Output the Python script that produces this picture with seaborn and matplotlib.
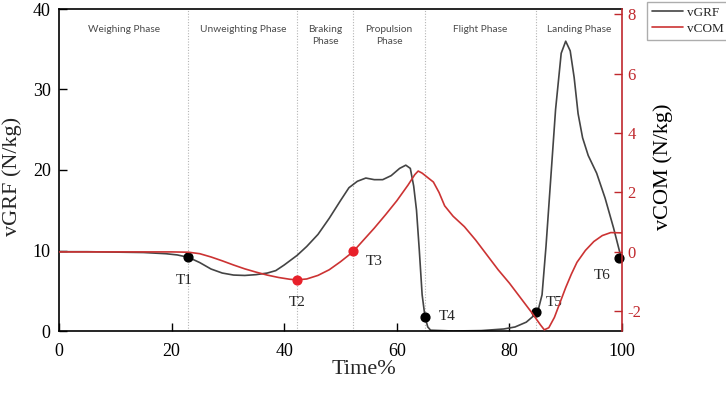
"""
vGRF and vCOM curves over a countermovement jump (Time%), with phase bands
and event markers T1..T6.
"""

import matplotlib
matplotlib.use("Agg")
import matplotlib.pyplot as plt
import seaborn as sns


# vertical ground reaction force (N/kg)
grf_time = [0, 5, 10, 15, 19, 21, 23, 25, 27, 29, 31, 33, 35, 37, 38.5, 40,
            42.3, 44, 46, 48, 50, 51.5, 53, 54.5, 56, 57.5, 59, 60.5, 61.6,
            62.4, 63, 63.5, 64, 64.5, 65, 65.5, 66, 70, 75, 79, 81, 83, 85,
            85.8, 86.5, 87.3, 88.2, 89.2, 90, 90.8, 91.5, 92.2, 93, 94, 95.5,
            97, 98.5, 100]
grf_vals = [9.85, 9.85, 9.8, 9.75, 9.6, 9.45, 9.15, 8.5, 7.7, 7.2, 6.95, 6.9,
            7.0, 7.2, 7.5, 8.2, 9.4, 10.5, 12.0, 14.0, 16.2, 17.8, 18.6, 19.0,
            18.8, 18.8, 19.3, 20.2, 20.6, 20.2, 18.0, 15.0, 10.0, 4.5, 1.8,
            0.5, 0.1, 0.0, 0.05, 0.25, 0.5, 1.1, 2.3, 4.5, 10.5, 18.5, 27.5,
            34.5, 36.0, 34.8, 31.5, 27.0, 24.0, 21.8, 19.6, 16.5, 12.8, 8.7]

# vertical centre-of-mass signal (N/kg)
com_time = [0, 10, 20, 23, 25, 27, 29, 31, 33, 35, 37, 39, 41, 42.3, 44, 46,
            48, 50, 52.2, 54, 56, 58, 60, 62, 63.2, 63.8, 64.5, 65.5, 66.5,
            67.5, 68.5, 70, 72, 74, 76, 78, 80, 82, 84, 85.5, 86.2, 87, 88,
            89, 90, 91, 92, 93.5, 95, 96.5, 98, 100]
com_vals = [0.0, 0.0, 0.0, -0.01, -0.06, -0.17, -0.3, -0.44, -0.57, -0.68,
            -0.78, -0.86, -0.92, -0.94, -0.91, -0.79, -0.6, -0.33, 0.0, 0.38,
            0.8, 1.25, 1.72, 2.25, 2.6, 2.72, 2.65, 2.5, 2.35, 2.0, 1.55, 1.2,
            0.85, 0.4, -0.1, -0.6, -1.05, -1.55, -2.05, -2.45, -2.62, -2.55,
            -2.2, -1.7, -1.2, -0.75, -0.35, 0.05, 0.35, 0.55, 0.65, 0.64]

# event markers
grf_events = ["T1", "T4", "T5", "T6"]
grf_event_t = [23, 65, 84.8, 99.5]
grf_event_v = [9.15, 1.8, 2.3, 9.1]
com_events = ["T2", "T3"]
com_event_t = [42.3, 52.2]
com_event_v = [-0.94, 0.02]

# phases
phase_names = ["Weighing Phase", "Unweighting Phase", "Braking\nPhase",
               "Propulsion\nPhase", "Flight Phase", "Landing Phase"]
phase_edges = [0, 23, 42.3, 52.3, 65, 84.8, 100]

GRF_COLOR = "#444444"
COM_COLOR = "#cc3333"
COM_AXIS = "#c0282d"
SERIF = "Liberation Serif"

sns.set_theme(style="white")
plt.rcParams["font.family"] = [SERIF, "DejaVu Serif"]
plt.rcParams["axes.unicode_minus"] = False

fig = plt.figure(figsize=(7.26, 3.95), dpi=100)
ax = fig.add_axes([59 / 726, 1 - 331 / 395, 563 / 726, 322 / 395])
ax2 = ax.twinx()

# phase borders and titles
for edge in phase_edges[1:-1]:
    ax.axvline(edge, color="#b5b5b5", lw=0.8, ls=(0, (1, 1.5)), zorder=0)
for name, a, b in zip(phase_names, phase_edges[:-1], phase_edges[1:]):
    ax.text((a + b) / 2, 0.95, name, transform=ax.get_xaxis_transform(),
            ha="center", va="top", fontsize=7.3, color="#4a4a4a",
            family="Lato", linespacing=1.35)

sns.lineplot(x=grf_time, y=grf_vals, ax=ax, color=GRF_COLOR, lw=1.2,
             label="vGRF", legend=False)
sns.lineplot(x=com_time, y=com_vals, ax=ax2, color=COM_COLOR, lw=1.2,
             label="vCOM", legend=False)

ax.scatter(grf_event_t, grf_event_v, s=40, color="black", zorder=5,
           clip_on=False)
ax2.scatter(com_event_t, com_event_v, s=40, color="#e8202a", zorder=5,
            clip_on=False)

# event labels, offsets in points from each marker
grf_offsets = [(-3, -17), (16, 0), (13, 7), (-12, -13)]
com_offsets = [(0, -16), (15, -7)]
for name, t, v, off in zip(grf_events, grf_event_t, grf_event_v, grf_offsets):
    ax.annotate(name, (t, v), xytext=off, textcoords="offset points",
                ha="center", va="center", fontsize=11)
for name, t, v, off in zip(com_events, com_event_t, com_event_v, com_offsets):
    ax2.annotate(name, (t, v), xytext=off, textcoords="offset points",
                 ha="center", va="center", fontsize=11)

ax.set_xlim(0, 100)
ax.set_ylim(0, 40)
ax2.set_ylim(-2.66, 8.17)
ax.set_xticks([0, 20, 40, 60, 80, 100])
ax.set_yticks([0, 10, 20, 30, 40])
ax2.set_yticks([-2, 0, 2, 4, 6, 8])

ax.tick_params(axis="x", direction="in", length=6, width=1, pad=9,
               labelsize=13, colors="black", bottom=True)
ax.tick_params(axis="y", direction="in", length=6, width=1, pad=6,
               labelsize=13, colors="black", left=True)
ax2.tick_params(axis="y", direction="in", length=6, width=1, pad=4,
                labelsize=12, colors=COM_AXIS, right=True)

for side in ["left", "bottom", "top"]:
    ax.spines[side].set_color("black")
    ax.spines[side].set_linewidth(1.2)
for side in ["left", "bottom", "top"]:
    ax2.spines[side].set_visible(False)
ax.spines["right"].set_visible(False)
ax2.spines["right"].set_color(COM_AXIS)
ax2.spines["right"].set_linewidth(1.2)

ax.set_xlabel("Time%", fontsize=16)
ax.xaxis.set_label_coords(0.542, -0.09)
ax.set_ylabel("vGRF (N/kg)", fontsize=16)
ax.yaxis.set_label_coords(-0.066, 0.48)
ax2.set_ylabel("vCOM (N/kg)", fontsize=16, color="black")
ax2.yaxis.set_label_coords(1.055, 0.51)

handles = ax.get_lines()[-1:] + ax2.get_lines()[-1:]
fig.legend(handles, ["vGRF", "vCOM"], loc="upper left",
           bbox_to_anchor=(647 / 726, 1 - 2 / 395), fontsize=9.5,
           frameon=True, fancybox=False, edgecolor="#999999",
           handlelength=2.4, handletextpad=0.25, labelspacing=0.3,
           borderpad=0.35, borderaxespad=0)

fig.savefig("out.png", dpi=100)
